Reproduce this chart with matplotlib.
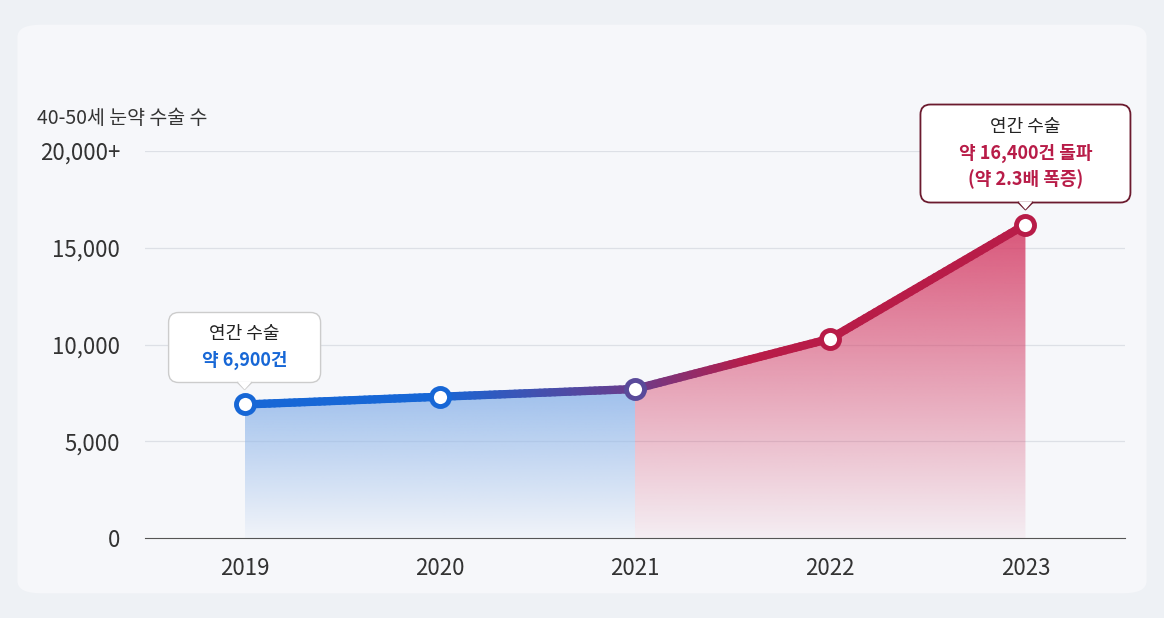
import numpy as np
import matplotlib
matplotlib.use("Agg")
import matplotlib.pyplot as plt
from matplotlib.collections import LineCollection
from matplotlib.patches import Polygon, FancyBboxPatch
from matplotlib.colors import to_rgb

plt.rcParams['font.family'] = ['Noto Sans CJK KR', 'DejaVu Sans']

years = [2019, 2020, 2021, 2022, 2023]
values = [6900, 7300, 7700, 10300, 16200]
ytick_vals = [0, 5000, 10000, 15000, 20000]
ytick_labels = ["0", "5,000", "10,000", "15,000", "20,000+"]
ylabel = "40-50세 눈약 수술 수"

fig = plt.figure(figsize=(11.64, 6.18), dpi=100)
fig.patch.set_facecolor('#eef1f5')
bg = FancyBboxPatch((0.015, 0.04), 0.97, 0.92, boxstyle="round,pad=0,rounding_size=0.02",
                    transform=fig.transFigure, facecolor='#f6f7fa', edgecolor='none', zorder=-5)
fig.patches.append(bg)
ax = fig.add_axes([0.1246, 0.1294, 0.8419, 0.6263])
ax.set_facecolor('none')
ax.set_xlim(2018.49, 2023.51)
ax.set_ylim(0, 20000)
for s in ['top', 'right', 'left']:
    ax.spines[s].set_visible(False)
ax.spines['bottom'].set_color('#555555')
ax.set_yticks(ytick_vals)
ax.set_yticklabels(ytick_labels, fontsize=16, color='#333333')
ax.tick_params(axis='y', length=0, pad=18)
ax.set_xticks(years)
ax.set_xticklabels([str(y) for y in years], fontsize=16, color='#333333')
ax.tick_params(axis='x', length=0, pad=14)
for v in ytick_vals[1:]:
    ax.axhline(v, color='#dde0e6', lw=0.9, zorder=1)
ax.text(-0.11, 1.07, ylabel, transform=ax.transAxes, fontsize=14, color='#333333', ha='left')

def grad_fill(xs, ys, color):
    poly = Polygon(list(zip(xs, ys)) + [(xs[-1], 0), (xs[0], 0)], closed=True, facecolor='none', edgecolor='none')
    ax.add_patch(poly)
    r, g, b = to_rgb(color)
    n = 256
    img = np.zeros((n, 1, 4))
    img[:, 0, 0], img[:, 0, 1], img[:, 0, 2] = r, g, b
    img[:, 0, 3] = np.linspace(0.85, 0.05, n)
    im = ax.imshow(img, extent=[xs[0], xs[-1], 0, max(ys)], origin='upper', aspect='auto', zorder=2)
    im.set_clip_path(poly)

grad_fill(years[:3], values[:3], '#8fb6ea')
grad_fill(years[2:], values[2:], '#d43a63')
ax.set_xlim(2018.49, 2023.51)
ax.set_ylim(0, 20000)

blue, purple, red = np.array(to_rgb('#1767d6')), np.array(to_rgb('#6a3c8c')), np.array(to_rgb('#b81c48'))
xs_f, ys_f = [], []
for i in range(len(years) - 1):
    t = np.linspace(0, 1, 40)
    xs_f.append(years[i] + t * (years[i+1] - years[i]))
    ys_f.append(values[i] + t * (values[i+1] - values[i]))
x = np.concatenate(xs_f); y = np.concatenate(ys_f)
pts = np.array([x, y]).T.reshape(-1, 1, 2)
segs = np.concatenate([pts[:-1], pts[1:]], axis=1)
cl = []
for xm in (x[:-1] + x[1:]) / 2:
    if xm <= 2020: c = blue
    elif xm <= 2021: c = blue + (purple - blue) * (xm - 2020)
    elif xm <= 2021.6: c = purple + (red - purple) * (xm - 2021) / 0.6
    else: c = red
    cl.append(c)
ax.add_collection(LineCollection(segs, colors=cl, linewidth=6, capstyle='round', zorder=4))
mcols = ['#1767d6', '#1767d6', '#5a4a9a', '#b81c48', '#b81c48']
for xx, yy, c in zip(years, values, mcols):
    ax.plot(xx, yy, 'o', ms=13, mfc='white', mec=c, mew=3.5, zorder=5)

# callout boxes in pixel space
def callout(xd, yd, w, h, gap, ec, lw):
    px, py = ax.transData.transform((xd, yd))
    bottom = py + gap
    box = FancyBboxPatch((px - w / 2, bottom), w, h, boxstyle="round,pad=0,rounding_size=10",
                         transform=None, facecolor='white', edgecolor=ec, lw=lw, zorder=6)
    fig.patches.append(box)
    tri = Polygon([(px - 7, bottom + 1), (px + 7, bottom + 1), (px, bottom - 7)], closed=True,
                  transform=None, facecolor='white', edgecolor='none', zorder=7)
    fig.patches.append(tri)
    fig.lines.append(plt.Line2D([px - 7, px, px + 7], [bottom, bottom - 7, bottom], transform=None,
                                color=ec, lw=lw, zorder=7))
    return px, bottom

px, b = callout(2019, values[0], 152, 70, 22, '#cccccc', 1)
fig.text(px, b + 48, "연간 수술", transform=None, ha='center', va='center', fontsize=13, color='#222222', zorder=8)
fig.text(px, b + 22, "약 6,900건", transform=None, ha='center', va='center', fontsize=13, color='#1767d6',
         fontweight='bold', zorder=8)
px, b = callout(2023, values[4], 210, 98, 22, '#6b1a2e', 1.3)
fig.text(px, b + 76, "연간 수술", transform=None, ha='center', va='center', fontsize=13, color='#222222', zorder=8)
fig.text(px, b + 49, "약 16,400건 돌파", transform=None, ha='center', va='center', fontsize=13, color='#b81c48',
         fontweight='bold', zorder=8)
fig.text(px, b + 23, "(약 2.3배 폭증)", transform=None, ha='center', va='center', fontsize=13, color='#b81c48',
         fontweight='bold', zorder=8)

fig.savefig('out.png', dpi=100, facecolor=fig.get_facecolor())
